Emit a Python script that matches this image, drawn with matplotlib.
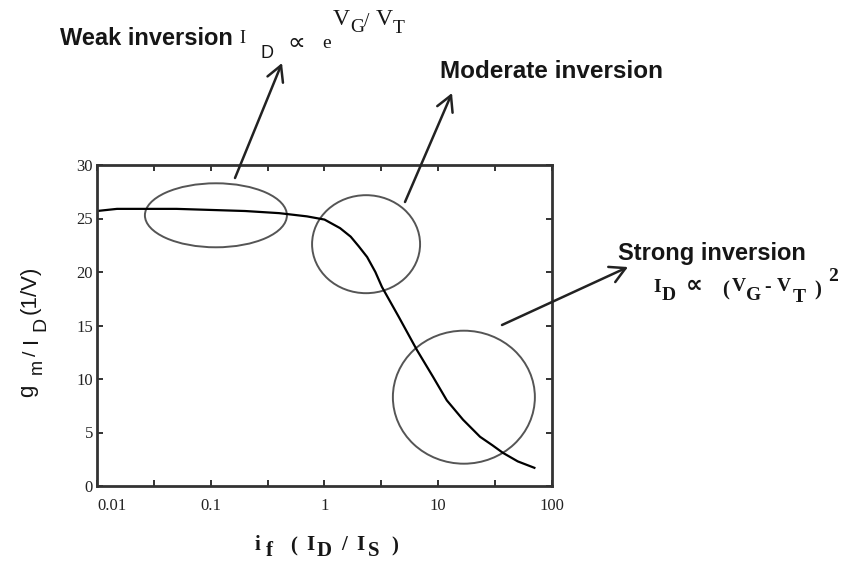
import matplotlib
matplotlib.use("Agg")
import matplotlib.pyplot as plt
from matplotlib.patches import Ellipse, FancyArrowPatch
from matplotlib.transforms import ScaledTranslation

# gm/ID versus inversion coefficient i_f = ID/IS
inversion_coeff = [0.01, 0.015, 0.05, 0.1, 0.2, 0.4, 0.7, 1.0, 1.37, 1.7, 2.0, 2.37,
                   2.8, 3.2, 4.5, 6.5, 9.0, 11.9, 16.5, 23.3, 30.0, 37.0, 50.0, 70.0]
gm_over_id = [25.7, 25.9, 25.9, 25.8, 25.7, 25.5, 25.2, 24.9, 24.1, 23.3, 22.4, 21.4,
              20.0, 18.6, 15.8, 12.7, 10.2, 8.0, 6.2, 4.6, 3.8, 3.1, 2.3, 1.7]

x_ticks = [0.01, 0.1, 1, 10, 100]
x_tick_labels = ["0.01", "0.1", "1", "10", "100"]
y_ticks = [0, 5, 10, 15, 20, 25, 30]

# Region markers: centre (i_f, gm/ID) and width/height in inches
regions = {
    "weak": ((0.111, 25.3), 1.42, 0.64),
    "moderate": ((2.32, 22.6), 1.08, 0.98),
    "strong": ((16.8, 8.3), 1.42, 1.33),
}

W, H = 845, 562
fig = plt.figure(figsize=(W / 100, H / 100), dpi=100)
ax = fig.add_axes([97 / W, 1 - 486 / H, (552 - 97) / W, (486 - 165) / H])

ax.plot(inversion_coeff, gm_over_id, color="black", lw=1.6, solid_joinstyle="round")

ax.set_xscale("log")
ax.set_xlim(0.01, 100)
ax.set_ylim(0, 30)
ax.set_xticks(x_ticks)
ax.set_xticklabels(x_tick_labels)
ax.set_xticks([10 ** (k + 0.5) for k in range(-2, 2)], minor=True)
ax.set_yticks(y_ticks)

serif = "Liberation Serif"
sans = "Liberation Sans"
ink = "#161616"
for lab in ax.get_xticklabels() + ax.get_yticklabels():
    lab.set_fontfamily(serif)
    lab.set_fontsize(12)
    lab.set_color("#222222")
ax.get_xticklabels()[0].set_horizontalalignment("left")
ax.get_xticklabels()[0].set_x(0.0093)

ax.tick_params(which="both", direction="in", top=True, right=True,
               length=4, width=1.3, color="#222222")
ax.tick_params(axis="x", pad=9)
ax.tick_params(axis="y", pad=3)
for s in ax.spines.values():
    s.set_linewidth(2.0)
    s.set_color("#333333")

for (cx, cy), w, h in regions.values():
    tr = fig.dpi_scale_trans + ScaledTranslation(cx, cy, ax.transData)
    ax.add_patch(Ellipse((0, 0), w, h, transform=tr, fill=False,
                         edgecolor="#555555", lw=1.4, clip_on=False))


def fig_xy(px, py):
    return px / W, 1 - py / H


# Arrows from each region up to its caption
arrows = [((235, 178), (282, 63)),
          ((405, 202), (452, 93)),
          ((502, 325), (628, 267))]
for tail, tip in arrows:
    fig.patches.append(FancyArrowPatch(
        fig_xy(*tail), fig_xy(*tip), transform=fig.transFigure,
        arrowstyle="->,head_length=0.55,head_width=0.3", mutation_scale=20,
        color="#222222", lw=1.8, shrinkA=0, shrinkB=0))


def put(px, py, s, size, family, weight="normal", rot=0):
    x, y = fig_xy(px, py)
    fig.text(x, y, s, fontsize=size, fontfamily=family, fontweight=weight,
             color=ink, ha="left", va="baseline", rotation=rot,
             rotation_mode="anchor")


# Captions
put(60, 45, "Weak inversion", 17, sans, "bold")
put(440, 78, "Moderate inversion", 17.5, sans, "bold")
put(618, 260, "Strong inversion", 17, sans, "bold")

# I_D ∝ exp(V_G / V_T)
for px, py, s, size, fam in [
        (239, 43, "I", 13, serif), (261, 58, "D", 13, sans),
        (287, 50, "\u221d", 18, "DejaVu Sans"), (322, 48, "e", 14, serif),
        (333, 25, "V", 17, serif), (350, 32, "G", 14, serif),
        (364, 26, "/", 14, serif), (376, 25, "V", 17, serif),
        (393, 33, "T", 14, serif)]:
    put(px, py, s, size, fam)

# I_D ∝ (V_G - V_T)^2
for px, py, s, size, fam in [
        (653, 292, "I", 14, serif), (662, 300, "D", 14, serif),
        (686, 292, "\u221d", 17, "DejaVu Sans"), (722, 295, "(", 15, serif),
        (732, 291, "V", 14, serif), (746, 300, "G", 14, serif),
        (764, 292, "-", 14, serif), (777, 291, "V", 14, serif),
        (793, 302, "T", 14, serif), (814, 295, ")", 15, serif),
        (828, 281, "2", 14, serif)]:
    put(px, py, s, size, fam, "bold")

# x-axis title: i_f ( I_D / I_S )
for px, py, s in [(255, 550, "i"), (266, 556, "f"), (290, 551, "("),
                  (306, 550, "I"), (317, 556, "D"), (341, 550, "/"),
                  (356, 550, "I"), (368, 556, "S"), (391, 551, ")")]:
    put(px, py, s, 15, serif, "bold")

# y-axis title: g_m / I_D(1/V)
for px, py, s, size in [(33, 397, "g", 16), (42, 374, "m", 13),
                        (36, 356, "/", 14), (37, 343, "I", 16),
                        (45, 331, "D", 14), (36, 314, "(1/V)", 16)]:
    put(px, py, s, size, sans, rot=90)

fig.savefig("out.png", dpi=100, facecolor="white")
